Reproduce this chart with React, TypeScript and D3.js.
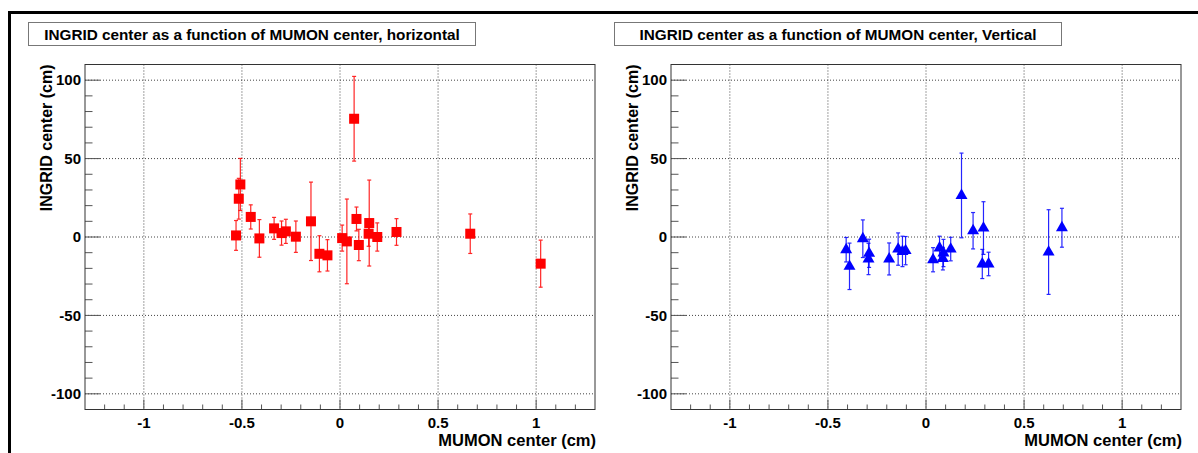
import React from "react";
import * as d3 from "d3";

// Horizontal panel (red squares)
const hX = [-0.530, -0.516, -0.508, -0.455, -0.411, -0.336, -0.298, -0.276, -0.225, -0.148, -0.105, -0.064, 0.011, 0.035, 0.072, 0.084, 0.096, 0.149, 0.146, 0.190, 0.288, 0.664, 1.023];
const hY = [1.0, 24.4, 33.5, 12.8, -0.9, 5.5, 2.5, 3.6, 0.2, 10.0, -10.7, -11.7, -0.7, -2.8, 75.4, 11.5, -5.1, 8.9, 2.1, 0.0, 3.2, 2.1, -17.0];
const hErr = [9.5, 13.0, 16.6, 7.7, 12.0, 7.0, 7.7, 7.7, 10.0, 25.0, 11.5, 10.0, 8.3, 27.0, 27.0, 7.6, 10.0, 27.4, 8.0, 9.0, 8.5, 12.6, 15.0];

// Vertical panel (blue triangles)
const vX = [-0.407, -0.390, -0.322, -0.290, -0.293, -0.188, -0.142, -0.120, -0.104, 0.036, 0.069, 0.086, 0.089, 0.126, 0.181, 0.240, 0.293, 0.287, 0.319, 0.625, 0.693];
const vY = [-8.1, -18.7, -1.1, -10.4, -14.0, -14.0, -7.7, -9.2, -8.7, -14.5, -7.0, -13.8, -10.2, -7.7, 26.5, 4.0, 5.7, -17.2, -17.2, -9.6, 5.9];
const vErr = [7.8, 14.8, 12.0, 9.0, 10.0, 10.2, 10.3, 9.7, 9.0, 7.7, 7.5, 7.2, 8.7, 7.5, 27.0, 11.6, 16.8, 9.3, 7.5, 27.0, 12.4];

const xMajorTicks = [-1, -0.5, 0, 0.5, 1];
const xTickLabels = ["-1", "-0.5", "0", "0.5", "1"];
const yMajorTicks = [-100, -50, 0, 50, 100];
const yTickLabels = ["-100", "-50", "0", "50", "100"];

const titles = [
  "INGRID center as a function of MUMON center, horizontal",
  "INGRID center as a function of MUMON center, Vertical",
];
const xTitle = "MUMON center (cm)";
const yTitle = "INGRID center (cm)";

const FONT = "'Liberation Sans', Arial, Helvetica, sans-serif";

type PanelProps = {
  ox: number;
  title: string;
  xs: number[];
  ys: number[];
  errs: number[];
  color: string;
  marker: "square" | "triangle";
};

function Panel({ ox, title, xs, ys, errs, color, marker }: PanelProps) {
  const left = 85 + ox;
  const right = 595 + ox;
  const top = 64.5;
  const bottom = 409.5;
  const x = d3.scaleLinear().domain([-1.3, 1.3]).range([left, right]);
  const y = d3.scaleLinear().domain([-110, 110]).range([bottom, top]);

  const xMinor = d3.range(-13, 14).map((i) => i / 10).filter((v) => v > -1.3 && v < 1.3);
  const yMinor = d3.range(-11, 12).map((i) => i * 10).filter((v) => v > -110 && v < 110);

  const gridColor = "#444";
  const tickColor = "#555";

  const tri = d3.symbol().type(d3.symbolTriangle).size(62);

  return (
    <g>
      {/* title box */}
      <rect x={28.5 + ox} y={22.5} width={447} height={23} fill="#fff" stroke="#777" strokeWidth={1} />
      <text
        x={28.5 + ox + 447 / 2}
        y={39.5}
        textAnchor="middle"
        fontFamily={FONT}
        fontWeight="bold"
        fontSize={15.3}
        fill="#000"
      >
        {title}
      </text>

      {/* grid */}
      {xMajorTicks.map((v) => (
        <line key={"gx" + v} x1={x(v)} x2={x(v)} y1={top} y2={bottom} stroke={gridColor} strokeWidth={1} strokeDasharray="1,2" />
      ))}
      {yMajorTicks.map((v) => (
        <line key={"gy" + v} x1={left} x2={right} y1={y(v)} y2={y(v)} stroke={gridColor} strokeWidth={1} strokeDasharray="1,2" />
      ))}

      {/* ticks */}
      {xMinor.map((v) => {
        const major = xMajorTicks.some((m) => Math.abs(m - v) < 1e-6);
        return (
          <line key={"tx" + v} x1={x(v)} x2={x(v)} y1={bottom} y2={bottom - (major ? 10 : 5)} stroke={tickColor} strokeWidth={1} />
        );
      })}
      {yMinor.map((v) => {
        const major = yMajorTicks.includes(v);
        return (
          <line key={"ty" + v} x1={left} x2={left + (major ? 15 : 7.5)} y1={y(v)} y2={y(v)} stroke={tickColor} strokeWidth={1} />
        );
      })}

      {/* frame */}
      <rect x={left} y={top} width={right - left} height={bottom - top} fill="none" stroke="#333" strokeWidth={1} />

      {/* tick labels */}
      {xMajorTicks.map((v, i) => (
        <text key={"lx" + v} x={x(v)} y={428} textAnchor="middle" fontFamily={FONT} fontWeight="bold" fontSize={15} fill="#000">
          {xTickLabels[i]}
        </text>
      ))}
      {yMajorTicks.map((v, i) => (
        <text key={"ly" + v} x={left - 4} y={y(v) + 5.3} textAnchor="end" fontFamily={FONT} fontWeight="bold" fontSize={15} fill="#000">
          {yTickLabels[i]}
        </text>
      ))}

      {/* axis titles */}
      <text x={right + 1} y={446} textAnchor="end" fontFamily={FONT} fontWeight="bold" fontSize={16.5} fill="#000">
        {xTitle}
      </text>
      <text
        transform={`translate(${52 + ox},${top}) rotate(-90)`}
        textAnchor="end"
        fontFamily={FONT}
        fontWeight="bold"
        fontSize={16}
        fill="#000"
      >
        {yTitle}
      </text>

      {/* error bars */}
      {xs.map((xv, i) => {
        const cx = x(xv);
        const y1 = y(ys[i] + errs[i]);
        const y2 = y(ys[i] - errs[i]);
        return (
          <g key={"e" + i} stroke={color} strokeWidth={1.2} opacity={0.85}>
            <line x1={cx} x2={cx} y1={y1} y2={y2} />
            <line x1={cx - 2} x2={cx + 2} y1={y1} y2={y1} />
            <line x1={cx - 2} x2={cx + 2} y1={y2} y2={y2} />
          </g>
        );
      })}

      {/* markers */}
      {xs.map((xv, i) => {
        const cx = x(xv);
        const cy = y(ys[i]);
        if (marker === "square") {
          return <rect key={"m" + i} x={cx - 5} y={cy - 5} width={10} height={10} fill={color} />;
        }
        return <path key={"m" + i} d={tri() as string} transform={`translate(${cx},${cy})`} fill={color} />;
      })}
    </g>
  );
}

export default function App() {
  return (
    <svg
      width={1198}
      height={453}
      style={{ position: "absolute", left: 0, top: 0, background: "#fff" }}
    >
      <rect x={0} y={0} width={1198} height={453} fill="#fff" />
      <rect x={9.5} y={12.5} width={1200} height={460} fill="none" stroke="#000" strokeWidth={3} />
      <Panel ox={0} title={titles[0]} xs={hX} ys={hY} errs={hErr} color="#ff0000" marker="square" />
      <Panel ox={586} title={titles[1]} xs={vX} ys={vY} errs={vErr} color="#0000ff" marker="triangle" />
    </svg>
  );
}
